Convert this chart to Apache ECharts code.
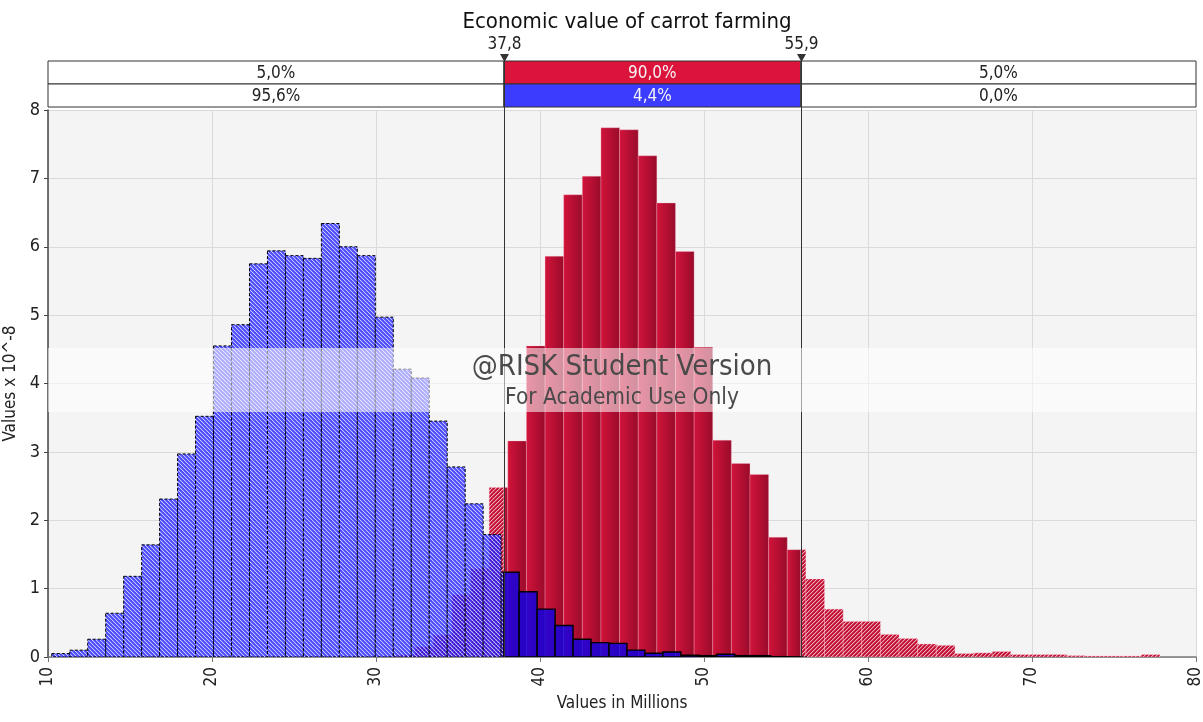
<!DOCTYPE html>
<html>
<head>
<meta charset="utf-8">
<script src="https://cdn.jsdelivr.net/npm/echarts@6/dist/echarts.min.js"></script>
<style>
  html, body { margin: 0; padding: 0; background: #fff; }
  #main { width: 1203px; height: 722px; }
</style>
</head>
<body>
<div id="main"></div>
<script>
// histogram data (values x 10^-8), bins
const blueStart = 10.23
const blueWidth = 1.096
const blueValues = [0.05, 0.10, 0.26, 0.64, 1.18, 1.64, 2.31, 2.97, 3.52, 4.55,
  4.86, 5.75, 5.94, 5.87, 5.83, 6.34, 6.00, 5.87, 4.97, 4.21,
  4.08, 3.45, 2.78, 2.24, 1.79, 1.24, 0.955, 0.70, 0.46, 0.26,
  0.21, 0.20, 0.10, 0.054, 0.073, 0.025, 0.02, 0.04, 0.02, 0.02,
  0.005, 0.003]

const redStart = 31.22
const redWidth = 1.136
const redValues = [0.03, 0.15, 0.32, 0.91, 1.29, 2.48, 3.16, 4.55, 5.86, 6.76,
  7.03, 7.74, 7.71, 7.33, 6.64, 5.93, 4.53, 3.17, 2.83, 2.67,
  1.75, 1.57, 1.14, 0.70, 0.52, 0.52, 0.33, 0.27, 0.19, 0.17,
  0.05, 0.06, 0.08, 0.035, 0.035, 0.035, 0.02, 0.015, 0.015, 0.015,
  0.035]

// delimiters and the probabilities in the bars above the chart
const delimiters = [37.8, 55.9]
const redPct = ['5,0%', '90,0%', '5,0%']
const bluePct = ['95,6%', '4,4%', '0,0%']

const xMin = 10
const xMax = 80
const yTicks = [0, 1, 2, 3, 4, 5, 6, 7, 8]

const FONT = '"DejaVu Sans Condensed", "DejaVu Sans", sans-serif'

// small tile with diagonal stripes, used as pattern fill
function hatch(bg, line, soft, n, dir) {
  const c = document.createElement('canvas')
  c.width = n
  c.height = n
  const ctx = c.getContext('2d')
  ctx.fillStyle = bg
  ctx.fillRect(0, 0, n, n)
  for (let i = 0; i < n; i++) {
    const x = dir > 0 ? (n - 1 - i) : i
    ctx.fillStyle = line
    ctx.fillRect(x, i, 1, 1)
    ctx.fillStyle = soft
    ctx.fillRect((x + 1) % n, i, 1, 1)
  }
  return c
}

const blueHatch = hatch('rgba(25,25,255,0.76)', 'rgba(255,255,255,0.7)', 'rgba(255,255,255,0.12)', 4, -1)
const redHatch = hatch('#c41034', 'rgba(255,255,255,0.65)', 'rgba(255,255,255,0.22)', 4, 1)

const chart = echarts.init(document.getElementById('main'))

function binData(start, width, values) {
  return values.map((v, i) => [start + i * width, start + (i + 1) * width, v])
}

// histogram piece clipped to [lo, hi]
function histSeries(name, start, width, values, lo, hi, style, z) {
  return {
    name: name,
    type: 'custom',
    xAxisIndex: 0,
    yAxisIndex: 0,
    z: z,
    clip: true,
    data: binData(start, width, values),
    encode: { x: [0, 1], y: 2 },
    renderItem(params, api) {
      const x0 = Math.max(api.value(0), lo)
      const x1 = Math.min(api.value(1), hi)
      if (x1 <= x0) return null
      const p0 = api.coord([x0, api.value(2)])
      const p1 = api.coord([x1, 0])
      return {
        type: 'rect',
        shape: { x: p0[0], y: p0[1], width: p1[0] - p0[0], height: p1[1] - p0[1] },
        style: style()
      }
    }
  }
}

const redSolid = () => ({
  fill: new echarts.graphic.LinearGradient(0, 0, 1, 0, [
    { offset: 0, color: '#d3133b' },
    { offset: 1, color: '#980b2a' }
  ]),
  stroke: 'rgba(255,190,205,0.3)',
  lineWidth: 1
})
const redHatched = () => ({
  fill: { image: redHatch, repeat: 'repeat' },
  stroke: 'rgba(255,190,205,0.35)',
  lineWidth: 1
})
const blueHatched = () => ({
  fill: { image: blueHatch, repeat: 'repeat' },
  stroke: '#000',
  lineWidth: 1,
  lineDash: [3, 2]
})
const blueSolid = () => ({
  fill: 'rgba(10,0,235,0.8)',
  stroke: '#000',
  lineWidth: 1.4
})

const lo = delimiters[0]
const hi = delimiters[1]

// top probability bars: rows x segments
const segEdges = [xMin, lo, hi, xMax]
const boxData = []
;[redPct, bluePct].forEach((row, r) => {
  row.forEach((t, s) => boxData.push([segEdges[s], segEdges[s + 1], r, t, s]))
})

const option = {
  animation: false,
  backgroundColor: '#fff',
  textStyle: { fontFamily: FONT },
  title: {
    text: 'Economic value of carrot farming',
    left: 622,
    textAlign: 'center',
    top: 6,
    textStyle: { fontSize: 22, fontWeight: 'normal', color: '#111', fontFamily: FONT }
  },
  grid: [
    { left: 48, right: 7, top: 110, bottom: 65, outerBoundsMode: 'none', containLabel: false, show: true, backgroundColor: '#f4f4f4', borderWidth: 0 },
    { left: 48, right: 7, top: 61, height: 46, outerBoundsMode: 'none', containLabel: false }
  ],
  xAxis: [
    {
      type: 'value',
      gridIndex: 0,
      min: xMin,
      max: xMax,
      interval: 10,
      name: 'Values in Millions',
      nameLocation: 'middle',
      nameGap: 38,
      nameTextStyle: { fontSize: 17, color: '#222', fontFamily: FONT },
      axisLine: { show: true, lineStyle: { color: '#777', width: 1.5 } },
      axisTick: { show: true, length: 5, lineStyle: { color: '#777' } },
      axisLabel: { rotate: 90, fontSize: 17, color: '#222', margin: 10, fontFamily: FONT },
      splitLine: { show: true, lineStyle: { color: '#dadada' } }
    },
    {
      type: 'value',
      gridIndex: 1,
      min: xMin,
      max: xMax,
      show: false
    }
  ],
  yAxis: [
    {
      type: 'value',
      gridIndex: 0,
      min: yTicks[0],
      max: yTicks[yTicks.length - 1],
      interval: 1,
      name: 'Values x 10^-8',
      nameLocation: 'middle',
      nameGap: 15,
      nameTextStyle: { fontSize: 17, color: '#222', fontFamily: FONT },
      axisLine: { show: true, lineStyle: { color: '#444', width: 1.5 } },
      axisTick: { show: true, length: 4, lineStyle: { color: '#444' } },
      axisLabel: { fontSize: 18, color: '#222', margin: 8, fontFamily: FONT },
      splitLine: { show: true, lineStyle: { color: '#dadada' } }
    },
    {
      type: 'value',
      gridIndex: 1,
      min: 0,
      max: 2,
      inverse: true,
      show: false
    }
  ],
  series: [
    histSeries('red-left', redStart, redWidth, redValues, xMin, lo, redHatched, 2),
    histSeries('red-mid', redStart, redWidth, redValues, lo, hi, redSolid, 2),
    histSeries('red-right', redStart, redWidth, redValues, hi, xMax, redHatched, 2),
    histSeries('blue-left', blueStart, blueWidth, blueValues, xMin, lo, blueHatched, 3),
    histSeries('blue-mid', blueStart, blueWidth, blueValues, lo, hi, blueSolid, 3),
    histSeries('blue-right', blueStart, blueWidth, blueValues, hi, xMax, blueHatched, 3),
    {
      // delimiter lines with their markers
      type: 'custom',
      xAxisIndex: 0,
      yAxisIndex: 0,
      z: 10,
      clip: false,
      data: delimiters.map(d => [d]),
      encode: { x: 0 },
      renderItem(params, api) {
        const x = api.value(0)
        const b = api.coord([x, 0])
        const t = api.coord([x, 8])
        const px = Math.round(b[0]) + 0.5
        return {
          type: 'group',
          children: [
            { type: 'line', shape: { x1: px, y1: b[1], x2: px, y2: t[1] - 49 }, style: { stroke: '#333', lineWidth: 1 } },
            { type: 'polygon', shape: { points: [[px - 4.5, t[1] - 56], [px + 4.5, t[1] - 56], [px, t[1] - 48]] }, style: { fill: '#333' } },
            { type: 'text', x: px, y: t[1] - 65, style: { text: String(x).replace('.', ','), fill: '#222', font: '17px ' + FONT, align: 'center', verticalAlign: 'middle' } }
          ]
        }
      }
    },
    {
      // probability bars above the chart
      type: 'custom',
      xAxisIndex: 1,
      yAxisIndex: 1,
      z: 9,
      clip: false,
      data: boxData,
      encode: { x: [0, 1], y: 2 },
      renderItem(params, api) {
        const r = api.value(2)
        const s = api.value(4)
        const p0 = api.coord([api.value(0), r])
        const p1 = api.coord([api.value(1), r + 1])
        const mid = s === 1
        const fill = mid ? (r === 0 ? '#dc143c' : '#3c3cff') : '#fff'
        return {
          type: 'group',
          children: [
            { type: 'rect', shape: { x: p0[0], y: p0[1], width: p1[0] - p0[0], height: p1[1] - p0[1] }, style: { fill: fill, stroke: '#333', lineWidth: 1 } },
            { type: 'text', x: (p0[0] + p1[0]) / 2, y: (p0[1] + p1[1]) / 2 + 1, style: { text: api.value(3), fill: mid ? '#f4f4f4' : '#222', font: '17px ' + FONT, align: 'center', verticalAlign: 'middle' } }
          ]
        }
      }
    }
  ],
  graphic: [
    { type: 'rect', z: 100, shape: { x: 48, y: 348, width: 1148, height: 64 }, style: { fill: 'rgba(255,255,255,0.55)' } },
    { type: 'text', z: 101, x: 622, y: 367, style: { text: '@RISK Student Version', fill: '#4a4a4a', font: '29px ' + FONT, align: 'center', verticalAlign: 'middle' } },
    { type: 'text', z: 101, x: 622, y: 398, style: { text: 'For Academic Use Only', fill: '#4a4a4a', font: '22.5px ' + FONT, align: 'center', verticalAlign: 'middle' } }
  ]
}

chart.setOption(option)
</script>
</body>
</html>
